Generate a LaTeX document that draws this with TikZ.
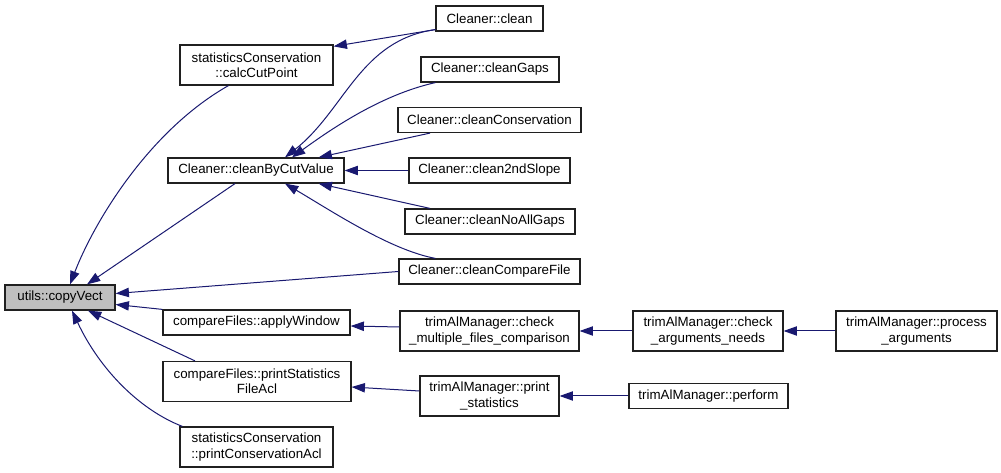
\documentclass[tikz,border=0pt]{standalone}
\usepackage{fontspec}
\setmainfont{Liberation Sans}
\usetikzlibrary{arrows.meta,calc}
\definecolor{edgeblue}{HTML}{191970}
\definecolor{focusgray}{HTML}{BFBFBF}
\definecolor{boxline}{HTML}{202020}
\tikzset{
  box/.style={draw=boxline, line width=0.9pt, fill=white, align=center, inner sep=0pt, font=\fontsize{10pt}{11.5pt}\selectfont, minimum height=18.75pt},
  tall/.style={minimum height=30pt},
  edge/.style={draw=edgeblue, line width=0.75pt, {Triangle[length=10pt,width=7pt]}-}
}
\begin{document}
\begin{tikzpicture}[x=0.75pt,y=-0.75pt]
\useasboundingbox (0,0) rectangle (1001,473);
% nodes
\node[box, fill=focusgray, minimum width=110*0.75pt] (copyvect) at (60,297.5) {utils::copyVect};
\node[box, tall, minimum width=153*0.75pt] (calccut) at (256.5,65) {statisticsConservation\\::calcCutPoint};
\node[box, minimum width=176*0.75pt] (cbcv) at (256,170.5) {Cleaner::cleanByCutValue};
\node[box, minimum width=107*0.75pt] (clean) at (489.5,18.5) {Cleaner::clean};
\node[box, minimum width=138*0.75pt] (gaps) at (490,69.5) {Cleaner::cleanGaps};
\node[box, minimum width=183*0.75pt] (cons) at (489.5,120) {Cleaner::cleanConservation};
\node[box, minimum width=161*0.75pt] (slope) at (489.5,170.5) {Cleaner::clean2ndSlope};
\node[box, minimum width=170*0.75pt] (noall) at (490,221.5) {Cleaner::cleanNoAllGaps};
\node[box, minimum width=181*0.75pt] (cmpfile) at (489.5,271.5) {Cleaner::cleanCompareFile};
\node[box, minimum width=187*0.75pt] (applywin) at (256.5,322.5) {compareFiles::applyWindow};
\node[box, tall, minimum width=188*0.75pt] (pstat) at (257,381.5) {compareFiles::printStatistics\\FileAcl};
\node[box, tall, minimum width=153*0.75pt] (pcons) at (256.5,447) {statisticsConservation\\::printConservationAcl};
\node[box, tall, minimum width=179*0.75pt] (chkmult) at (489.5,331) {trimAlManager::check\\\_multiple\_files\_comparison};
\node[box, tall, minimum width=139*0.75pt] (prstat) at (489.5,396) {trimAlManager::print\\\_statistics};
\node[box, tall, minimum width=150*0.75pt] (chkarg) at (708,331) {trimAlManager::check\\\_arguments\_needs};
\node[box, tall, minimum width=161*0.75pt] (procarg) at (916.5,331) {trimAlManager::process\\\_arguments};
\node[box, minimum width=159*0.75pt] (perform) at (708.5,396) {trimAlManager::perform};
% edges into copyVect
\draw[edge] ($(copyvect.north)+(10,0)$) .. controls (95,220) and (150,130) .. ($(calccut.south)+(-28,0)$);
\draw[edge] ($(copyvect.north)+(27,0)$) -- ($(cbcv.south)+(-21,0)$);
\draw[edge] ($(copyvect.east)+(0,-4)$) -- (cmpfile.west);
\draw[edge] ($(copyvect.east)+(0,7)$) -- (applywin.north west);
\draw[edge] ($(copyvect.south)+(28,0)$) -- ($(pstat.north)+(-62,0)$);
\draw[edge] ($(copyvect.south)+(12,0)$) .. controls (100,370) and (140,410) .. ($(pcons.north west)+(3,0)$);
% edges into calcCutPoint / cleanByCutValue
\draw[edge] ($(calccut.north east)+(0,2)$) -- ($(clean.south west)+(0,-2)$);
\draw[edge] ($(cbcv.north)+(29,0)$) .. controls (345,110) and (360,40) .. ($(clean.south west)+(0,-2)$);
\draw[edge] ($(cbcv.north)+(36,0)$) .. controls (330,130) and (380,95) .. ($(gaps.south west)+(15,0)$);
\draw[edge] ($(cbcv.north east)+(-26,0)$) -- ($(cons.south)+(-59.5,0)$);
\draw[edge] (cbcv.east) -- (slope.west);
\draw[edge] ($(cbcv.south east)+(-26,0)$) -- ($(noall.north)+(-60,0)$);
\draw[edge] ($(cbcv.south)+(29,0)$) .. controls (330,210) and (390,250) .. ($(cmpfile.north west)+(37,0)$);
% right-hand edges
\draw[edge] ($(applywin.east)+(0,3.5)$) -- ($(chkmult.west)+(0,-4)$);
\draw[edge] ($(pstat.east)+(0,5.5)$) -- ($(prstat.west)+(0,-5)$);
\draw[edge] (chkmult.east) -- (chkarg.west);
\draw[edge] (prstat.east) -- (perform.west);
\draw[edge] (chkarg.east) -- (procarg.west);
\end{tikzpicture}
\end{document}
